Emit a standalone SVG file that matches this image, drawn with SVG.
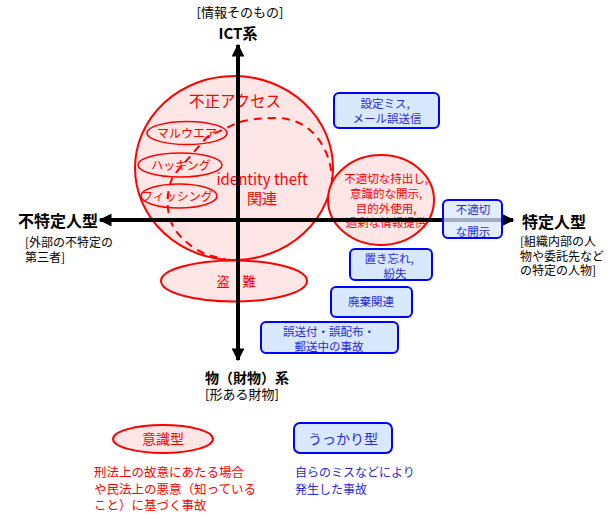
<svg xmlns="http://www.w3.org/2000/svg" width="612" height="519" viewBox="0 0 612 519">
<style>
text{font-family:"Noto Sans CJK JP","Noto Sans",sans-serif;}
.red{fill:#FFE6E6;stroke:#FF0000;stroke-width:2;}
.redo{fill:none;stroke:#FF0000;stroke-width:1.5;}
.rt{fill:#FF0000;text-anchor:middle;}
.box{fill:#D8E8FF;stroke:#0000FF;stroke-width:2;}
.bt{fill:#2A2ADC;font-size:11.5px;text-anchor:middle;}
.ax{stroke:#000;stroke-width:4;fill:none;}
.lbl{fill:#000;}
.b{font-weight:bold;}
</style>
<defs>
<marker id="ah" viewBox="0 0 10 10" refX="9" refY="5" markerWidth="3.2" markerHeight="3.2" orient="auto" markerUnits="strokeWidth">
<path d="M0,0 L10,5 L0,10 z" fill="#000"/>
</marker>
</defs>

<g id="unauthorized-access">
<ellipse class="red" cx="234" cy="168" rx="99" ry="92"/>
<path d="M332,185 C333,150 312,118 276,118 C258,118 246,120 237,123 L207,137 L173,176 C165,195 166,215 175,230 C189,248 205,256 225,259" fill="none" stroke="#FF0000" stroke-width="2" stroke-dasharray="8,6"/>
<text class="rt" x="235" y="107" font-size="15.5">不正アクセス</text>
<text class="rt" x="262" y="185" font-size="15">identity theft</text>
<text class="rt" x="262" y="204" font-size="15">関連</text>
</g>
<g id="malware">
<ellipse class="redo" cx="187" cy="133" rx="40" ry="11.5"/>
<text class="rt" x="187" y="138" font-size="12">マルウエア</text>
</g>
<g id="hacking">
<ellipse class="redo" cx="180" cy="165" rx="42" ry="12"/>
<text class="rt" x="181" y="170" font-size="12">ハッキング</text>
</g>
<g id="phishing">
<ellipse class="redo" cx="179" cy="196" rx="38" ry="12"/>
<text class="rt" x="177" y="201" font-size="12">フィッシング</text>
</g>
<g id="theft">
<ellipse class="red" cx="234" cy="281" rx="73" ry="20.5"/>
<text class="rt" x="236" y="286" font-size="13">盗　難</text>
</g>
<g id="intentional-disclosure">
<ellipse class="red" cx="381" cy="200" rx="53" ry="45"/>
<text class="rt" x="386" y="183" font-size="11.5">不適切な持出し,</text>
<text class="rt" x="386" y="198" font-size="11.5">意識的な開示,</text>
<text class="rt" x="386" y="212.5" font-size="11.5">目的外使用,</text>
<text class="rt" x="386" y="227" font-size="11.5">過剰な情報提供</text>
</g>

<g id="connectors">
<line class="ax" x1="238" y1="228" x2="238" y2="45" marker-end="url(#ah)"/>
<line class="ax" x1="238" y1="220" x2="238" y2="360" marker-end="url(#ah)"/>
<line class="ax" x1="240" y1="220" x2="100" y2="220" marker-end="url(#ah)"/>
<line class="ax" x1="236" y1="220" x2="513" y2="220" marker-end="url(#ah)"/>
</g>

<g id="config-error">
<rect class="box" x="334" y="93" width="105" height="35" rx="5"/>
<text class="bt" x="385" y="108">設定ミス,</text>
<text class="bt" x="387" y="123">メール誤送信</text>
</g>
<g id="improper-disclosure">
<rect class="box" x="443" y="200" width="59" height="38" rx="5" fill-opacity="0.75"/>
<text class="bt" x="473" y="214">不適切</text>
<text class="bt" x="473" y="236">な開示</text>
</g>
<g id="lost">
<rect class="box" x="350" y="249" width="82" height="31" rx="5"/>
<text class="bt" x="389" y="263">置き忘れ,</text>
<text class="bt" x="395" y="277.5">紛失</text>
</g>
<g id="disposal">
<rect class="box" x="331" y="287" width="81" height="30" rx="5"/>
<text class="bt" x="371" y="306">廃棄関連</text>
</g>
<g id="misdelivery">
<rect class="box" x="261" y="322" width="137" height="31" rx="5"/>
<text class="bt" x="329" y="336">誤送付・誤配布・</text>
<text class="bt" x="329" y="350.5">郵送中の事故</text>
</g>

<g id="axis-labels">
<text class="lbl" x="240" y="17" font-size="13" text-anchor="middle">[情報そのもの]</text>
<text class="lbl b" x="238" y="39" font-size="15" text-anchor="middle">ICT系</text>
<text class="lbl b" x="18" y="227" font-size="16">不特定人型</text>
<text class="lbl" x="25" y="247" font-size="12">[外部の不特定の</text>
<text class="lbl" x="25" y="262" font-size="12">第三者]</text>
<text class="lbl b" x="522" y="228" font-size="16">特定人型</text>
<text class="lbl" x="520" y="246" font-size="12">[組織内部の人</text>
<text class="lbl" x="520" y="261" font-size="12">物や委託先など</text>
<text class="lbl" x="520" y="275" font-size="12">の特定の人物]</text>
<text class="lbl b" x="247" y="383" font-size="14" text-anchor="middle">物（財物）系</text>
<text class="lbl" x="242" y="399" font-size="13" text-anchor="middle">[形ある財物]</text>
</g>

<g id="legend-intentional">
<ellipse class="red" cx="163" cy="439" rx="50" ry="14"/>
<text class="rt" x="163" y="444" font-size="14">意識型</text>
<text x="94" y="477" font-size="12.5" fill="#FF0000">刑法上の故意にあたる場合</text>
<text x="94" y="494" font-size="12.5" fill="#FF0000">や民法上の悪意（知っている</text>
<text x="94" y="510" font-size="12.5" fill="#FF0000">こと）に基づく事故</text>
</g>
<g id="legend-careless">
<rect class="box" x="294" y="423" width="98" height="30" rx="6"/>
<text class="bt" x="343" y="444" style="font-size:14px">うっかり型</text>
<text x="295" y="477" font-size="12" fill="#2A2ADC">自らのミスなどにより</text>
<text x="295" y="494" font-size="12" fill="#2A2ADC">発生した事故</text>
</g>
</svg>
